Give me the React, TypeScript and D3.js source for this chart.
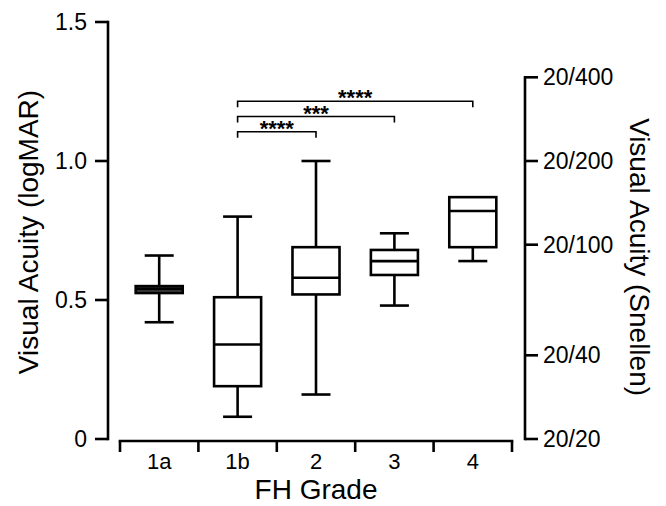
import React from "react";
import * as d3 from "d3";

const categories = ["1a", "1b", "2", "3", "4"];
const whiskerMin = [0.42, 0.08, 0.16, 0.48, 0.64];
const q1 = [0.525, 0.19, 0.52, 0.59, 0.69];
const median = [0.54, 0.34, 0.58, 0.64, 0.82];
const q3 = [0.55, 0.51, 0.69, 0.68, 0.87];
const whiskerMax = [0.66, 0.8, 1.0, 0.74, 0.87];

const leftTicks = [0, 0.5, 1.0, 1.5];
const leftTickLabels = ["0", "0.5", "1.0", "1.5"];
const snellenDenoms = [20, 40, 100, 200, 400];
const snellenLabels = ["20/20", "20/40", "20/100", "20/200", "20/400"];

const compFrom = ["1b", "1b", "1b"];
const compTo = ["2", "3", "4"];
const compLabels = ["****", "***", "****"];
const compLevels = [1.105, 1.16, 1.215];

const FONT = "'Liberation Sans', Arial, Helvetica, sans-serif";

export default function App() {
  const W = 666, H = 506;
  const y = d3.scaleLinear().domain([0, 1.5]).range([439, 22]);
  const x = d3.scaleBand().domain(categories).range([120, 512]).paddingInner(0).paddingOuter(0);
  const bw = x.bandwidth();
  const boxW = bw * 0.6;
  const capW = bw * 0.37;
  const cx = (c: string) => (x(c) as number) + bw / 2;
  const axisY = 441;
  const leftX = 108;
  const rightX = 525;
  const sw = 2.6;

  return (
    <svg width={W} height={H} style={{ position: "absolute", left: 0, top: 0, background: "#fff" }} fontFamily={FONT}>
      <rect x={0} y={0} width={W} height={H} fill="#fff" />
      {/* Left axis */}
      <line x1={leftX} x2={leftX} y1={y(1.5) - 1.3} y2={y(0) + 1.3} stroke="#000" strokeWidth={sw} />
      {leftTicks.map((t, i) => (
        <g key={"lt" + i}>
          <line x1={leftX - 13} x2={leftX} y1={y(t)} y2={y(t)} stroke="#000" strokeWidth={sw} />
          <text x={87} y={y(t) + 8} textAnchor="end" fontSize={23} fill="#000">{leftTickLabels[i]}</text>
        </g>
      ))}
      <text transform={`translate(38,232) rotate(-90)`} textAnchor="middle" fontSize={28} fill="#000">Visual Acuity (logMAR)</text>

      {/* Right axis */}
      <line x1={rightX} x2={rightX} y1={y(Math.log10(400 / 20)) - 1.3} y2={y(0) + 1.3} stroke="#000" strokeWidth={sw} />
      {snellenDenoms.map((d, i) => {
        const v = Math.log10(d / 20);
        return (
          <g key={"rt" + i}>
            <line x1={rightX} x2={rightX + 13} y1={y(v)} y2={y(v)} stroke="#000" strokeWidth={sw} />
            <text x={543} y={y(v) + 8} textAnchor="start" fontSize={23} fill="#000">{snellenLabels[i]}</text>
          </g>
        );
      })}
      <text transform={`translate(630,257) rotate(90)`} textAnchor="middle" fontSize={28} fill="#000">Visual Acuity (Snellen)</text>

      {/* Bottom axis */}
      <line x1={120 - 1.3} x2={512 + 1.3} y1={axisY} y2={axisY} stroke="#000" strokeWidth={sw} />
      {[...categories.map((c) => x(c) as number), 512].map((px, i) => (
        <line key={"bt" + i} x1={px} x2={px} y1={axisY} y2={axisY + 11} stroke="#000" strokeWidth={sw} />
      ))}
      {categories.map((c) => (
        <text key={"bl" + c} x={cx(c)} y={469} textAnchor="middle" fontSize={22} fill="#000">{c}</text>
      ))}
      <text x={316} y={499} textAnchor="middle" fontSize={28} fill="#000">FH Grade</text>

      {/* Boxes */}
      {categories.map((c, i) => {
        const mx = cx(c);
        return (
          <g key={"box" + c} stroke="#000" strokeWidth={sw} fill="none">
            <line x1={mx} x2={mx} y1={y(whiskerMax[i])} y2={y(q3[i])} />
            <line x1={mx} x2={mx} y1={y(q1[i])} y2={y(whiskerMin[i])} />
            {whiskerMax[i] > q3[i] && (
              <line x1={mx - capW / 2} x2={mx + capW / 2} y1={y(whiskerMax[i])} y2={y(whiskerMax[i])} />
            )}
            <line x1={mx - capW / 2} x2={mx + capW / 2} y1={y(whiskerMin[i])} y2={y(whiskerMin[i])} />
            <rect x={mx - boxW / 2} y={y(q3[i])} width={boxW} height={y(q1[i]) - y(q3[i])} fill={i === 0 ? "#444" : "none"} />
            <line x1={mx - boxW / 2} x2={mx + boxW / 2} y1={y(median[i])} y2={y(median[i])} />
          </g>
        );
      })}

      {/* Significance brackets */}
      {compFrom.map((f, i) => {
        const x1 = cx(f);
        const x2 = cx(compTo[i]);
        const by = y(compLevels[i]);
        return (
          <g key={"cmp" + i}>
            <path d={`M${x1},${by + 6}V${by}H${x2}V${by + 6}`} stroke="#000" strokeWidth={1.6} fill="none" />
            <text x={(x1 + x2) / 2} y={by + 4} textAnchor="middle" fontSize={22} fontWeight="bold" fill="#000">{compLabels[i]}</text>
          </g>
        );
      })}
    </svg>
  );
}
